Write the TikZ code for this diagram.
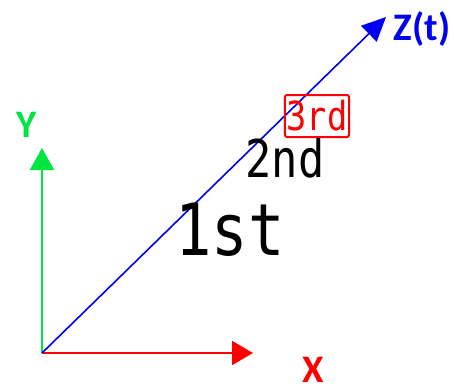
\documentclass[tikz,border=0pt]{standalone}
\usepackage{fontspec}
\usepackage{tikz}
\usepackage{xcolor}
\usetikzlibrary{arrows.meta}
\setmainfont{Carlito}
\newfontfamily\monofont{DejaVu Sans Mono}
\definecolor{ycolor}{RGB}{0,230,64}
\definecolor{xcolor}{RGB}{255,0,0}
\definecolor{zcolor}{RGB}{0,0,240}

\begin{document}
\begin{tikzpicture}[x=1pt, y=-1pt,
  axislabel/.style={font=\fontsize{39}{39}\selectfont\bfseries, inner sep=0pt},
  order/.style={inner sep=0pt, xscale=0.84, transform shape}]
\useasboundingbox (0,0) rectangle (454,389);

% Axes
\coordinate (O) at (42,353);
\coordinate (Ytip) at (42,148);
\coordinate (Xtip) at (253,353);
\coordinate (Ztip) at (386,17);
\draw[line width=2pt, ycolor, -{Triangle[length=22pt, width=24pt]}] (O) -- (Ytip);
\draw[line width=2pt, xcolor, -{Triangle[length=21pt, width=24pt]}] (O) -- (Xtip);
\draw[line width=1.6pt, zcolor, -{Triangle[length=24pt, width=22pt]}] (O) -- (Ztip);

% Axis labels
\node[axislabel, ycolor] (ylabel) at (27,125) {Y};
\node[axislabel, xcolor] (xlabel) at (313,370) {X};
\node[axislabel, zcolor] (zlabel) at (422,29) {Z(t)};

% Order along Z
\node[order, font=\monofont\fontsize{72}{72}\selectfont] (first) at (230,230) {1st};
\node[order, font=\monofont\fontsize{52}{52}\selectfont] (second) at (285,158) {2nd};
\node[order, font=\monofont\fontsize{40}{40}\selectfont, text=red, draw=red, line width=2pt,
  rounded corners=2pt, minimum width=68pt, minimum height=42pt, inner sep=2pt] (third) at (317,116) {3rd};

\end{tikzpicture}
\end{document}
